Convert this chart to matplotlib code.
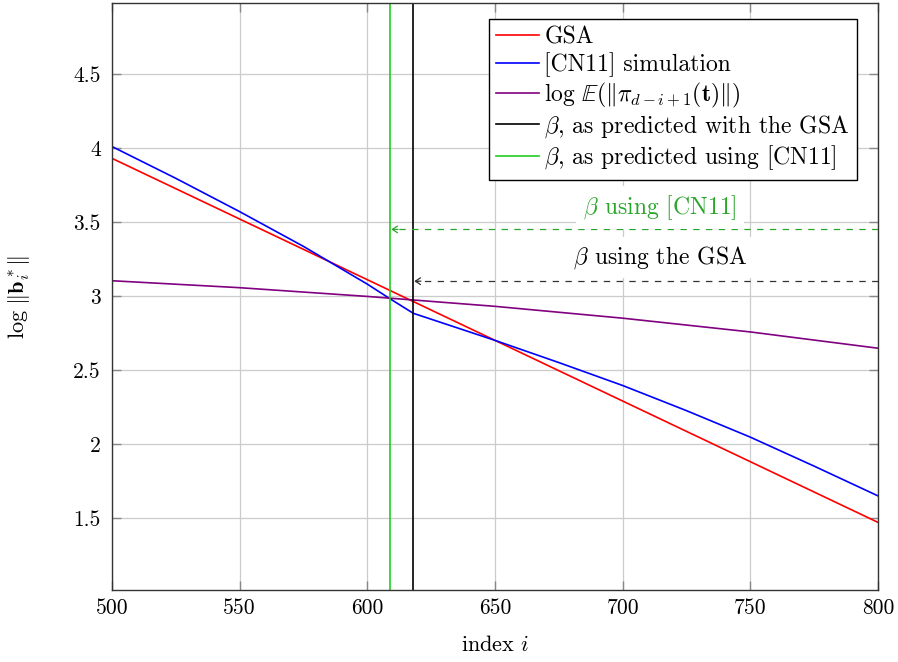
import matplotlib
matplotlib.use('Agg')
import matplotlib.pyplot as plt

plt.rcParams['font.family'] = 'serif'
plt.rcParams['font.serif'] = ['cmr10']
plt.rcParams['mathtext.fontset'] = 'cm'
plt.rcParams['axes.unicode_minus'] = False
plt.rcParams['axes.formatter.use_mathtext'] = True
plt.rcParams['lines.scale_dashes'] = False

# GSA prediction (straight line in log scale)
gsa_x = [500, 800]
gsa_y = [3.93, 1.47]

# [CN11] simulation
sim_x = [500, 525, 550, 575, 600, 609, 618, 650, 675, 700, 725, 750, 775, 800]
sim_y = [4.01, 3.795, 3.57, 3.335, 3.08, 2.98, 2.883, 2.70, 2.55, 2.395, 2.225, 2.046, 1.85, 1.649]

# log E(||pi_{d-i+1}(t)||)
proj_x = [500, 550, 600, 650, 700, 750, 800]
proj_y = [3.103, 3.056, 2.997, 2.93, 2.85, 2.757, 2.647]

# predicted block sizes
beta_gsa = 618
beta_cn11 = 609
arrow_y_gsa = 3.10
arrow_y_cn11 = 3.45

xticks = [500, 550, 600, 650, 700, 750, 800]
yticks = [1.5, 2, 2.5, 3, 3.5, 4, 4.5]
ytick_labels = ['1.5', '2', '2.5', '3', '3.5', '4', '4.5']

green_line = '#22cc22'
green_text = '#2aa52a'

fig = plt.figure(figsize=(8.98, 6.62), dpi=100)
ax = fig.add_axes([112 / 898, 1 - 590 / 662, 766 / 898, 587 / 662])

ax.plot(gsa_x, gsa_y, color='red', lw=1.2, label='GSA')
ax.plot(sim_x, sim_y, color='blue', lw=1.2, label='[CN11] simulation')
ax.plot(proj_x, proj_y, color='purple', lw=1.2,
        label=r'$\log\,\mathbb{E}(\Vert\pi_{d-i+1}(\mathbf{t})\Vert)$')
ax.axvline(beta_gsa, color='black', lw=1.2, label=r'$\beta$, as predicted with the GSA')
ax.axvline(beta_cn11, color=green_line, lw=1.2, label=r'$\beta$, as predicted using [CN11]')

# dashed arrows pointing to the predicted beta values
dash = (0, (4.6, 4.6))
ax.plot([800, beta_cn11 + 0.5], [arrow_y_cn11, arrow_y_cn11], color=green_text, lw=0.9, ls=dash)
ax.annotate('', xy=(beta_cn11 + 0.4, arrow_y_cn11), xytext=(beta_cn11 + 3, arrow_y_cn11),
            arrowprops=dict(arrowstyle='->,head_length=0.45,head_width=0.3', color=green_text,
                            lw=0.9, shrinkA=0, shrinkB=0, mutation_scale=8))
ax.plot([800, beta_gsa + 0.5], [arrow_y_gsa, arrow_y_gsa], color='#333333', lw=0.9, ls=dash)
ax.annotate('', xy=(beta_gsa + 0.4, arrow_y_gsa), xytext=(beta_gsa + 3, arrow_y_gsa),
            arrowprops=dict(arrowstyle='->,head_length=0.45,head_width=0.3', color='#333333',
                            lw=0.9, shrinkA=0, shrinkB=0, mutation_scale=8))

box = dict(boxstyle='square,pad=0.3', facecolor='white', edgecolor='none')
ax.text(714.5, 3.60, r'$\beta$ using [CN11]', color=green_text, fontsize=17,
        ha='center', va='center', bbox=box, zorder=5)
ax.text(714.5, 3.257, r'$\beta$ using the GSA', color='black', fontsize=17,
        ha='center', va='center', bbox=box, zorder=5)

ax.set_xlim(500, 800)
ax.set_ylim(1.013, 4.98)
ax.set_xticks(xticks)
ax.set_xticklabels([str(t) for t in xticks])
ax.set_yticks(yticks)
ax.set_yticklabels(ytick_labels)
ax.tick_params(direction='in', length=6.5, width=1.0, color='#888888',
               top=True, right=True, labelsize=15.5)
ax.tick_params(axis='x', pad=6)
ax.tick_params(axis='y', pad=8)
ax.grid(True, color='#cccccc', lw=0.9)
ax.set_axisbelow(True)
for s in ax.spines.values():
    s.set_color('#333333')
    s.set_linewidth(1.0)

ax.set_xlabel(r'index $i$', fontsize=16, va='top')
ax.xaxis.set_label_coords(0.5, -0.076)
ax.set_ylabel(r'$\log\,\Vert\mathbf{b}_i^*\Vert$', fontsize=16)
ax.yaxis.set_label_coords(-0.103, 0.5)

leg = ax.legend(loc='upper right', bbox_to_anchor=(857 / 898, 1 - 19 / 662),
                bbox_transform=fig.transFigure, borderaxespad=0, fontsize=17,
                fancybox=False, framealpha=1, edgecolor='black',
                handlelength=1.82, handletextpad=0.22, labelspacing=0.15, borderpad=0.32)
leg.get_frame().set_linewidth(1.0)

fig.savefig('out.png', dpi=100)
